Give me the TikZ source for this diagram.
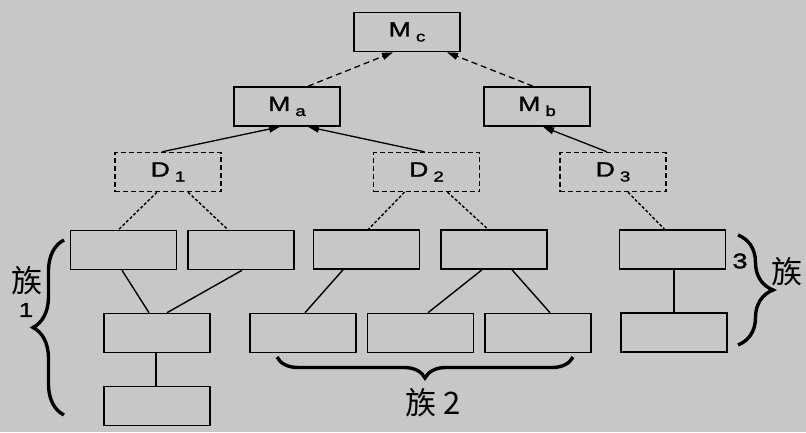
\documentclass[tikz,border=0pt]{standalone}
\usepackage{fontspec}
\setmainfont{Liberation Sans}
\newfontfamily\latinfont[FakeStretch=1.3,FakeBold=1.5]{Liberation Sans}
\newfontfamily\cjk{Noto Sans CJK SC}
\usetikzlibrary{arrows.meta,positioning,decorations.pathreplacing}
\definecolor{bggray}{RGB}{199,199,199}
\newcommand{\sublabel}[2]{{\fontsize{20.5}{21}\latinfont #1}\hspace{5pt}\raisebox{-5pt}{\fontsize{14.5}{15}\latinfont #2}}

\begin{document}
\begin{tikzpicture}[
    x=1pt, y=-1pt,
    box/.style={rectangle, draw=black, line width=1.6pt, minimum width=106pt, minimum height=39pt, inner sep=0pt},
    dbox/.style={box, line width=1.4pt, dash pattern=on 5pt off 3pt},
    arrow/.style={-{Triangle[length=11pt,width=7pt]}, line width=1.3pt},
    darrow/.style={arrow, dash pattern=on 6pt off 4pt},
    link/.style={line width=1.4pt},
    dlink/.style={link, dash pattern=on 3pt off 2pt},
    bracket/.style={decorate, decoration={brace, amplitude=#1}, line width=3.4pt},
    tag/.style={inner sep=0pt, font=\cjk\fontsize{31}{31}\selectfont}
]
\fill[bggray] (0,0) rectangle (806,432);

% models
\node[box] (mc) at (407,32) {\sublabel{M}{c}};
\node[box] (ma) at (287,106.5) {\sublabel{M}{a}};
\node[box] (mb) at (537,106.5) {\sublabel{M}{b}};

% data sets
\node[dbox] (d1) at (168,172) {\sublabel{D}{1}};
\node[dbox] (d2) at (426.5,172) {\sublabel{D}{2}};
\node[dbox] (d3) at (613,172) {\sublabel{D}{3}};

% members
\node[box] (a) at (123.5,250) {};
\node[box] (b) at (241,250) {};
\node[box] (c) at (366.5,249.5) {};
\node[box] (d) at (494,249.5) {};
\node[box] (e) at (672.5,249.5) {};
\node[box] (f) at (157,333) {};
\node[box] (g) at (303,333) {};
\node[box] (h) at (420.5,333) {};
\node[box] (i) at (538,333) {};
\node[box] (j) at (674,332.5) {};
\node[box] (k) at (157,406) {};

\draw[darrow] ([xshift=21pt]ma.north) -- ([xshift=-14pt]mc.south);
\draw[darrow] ([xshift=-4pt]mb.north) -- ([xshift=40pt]mc.south);
\draw[arrow] ([xshift=-6pt]d1.north) -- ([xshift=-7pt]ma.south);
\draw[arrow] ([xshift=-2pt]d2.north) -- ([xshift=21pt]ma.south);
\draw[arrow] ([xshift=-6pt]d3.north) -- ([xshift=6pt]mb.south);

\draw[dlink] ([xshift=-11pt]d1.south) -- ([xshift=-5pt]a.north);
\draw[dlink] ([xshift=20pt]d1.south) -- ([xshift=-13pt]b.north);
\draw[dlink] ([xshift=-22pt]d2.south) -- ([xshift=2pt]c.north);
\draw[dlink] ([xshift=21pt]d2.south) -- ([xshift=-6pt]d.north);
\draw[dlink] ([xshift=15pt]d3.south) -- ([xshift=-8pt]e.north);

\draw[link] ([xshift=-1.5pt]a.south) -- ([xshift=-8pt]f.north);
\draw[link] ([xshift=1pt]b.south) -- ([xshift=10pt]f.north);
\draw[link] ([xshift=-23.5pt]c.south) -- ([xshift=2pt]g.north);
\draw[link] ([xshift=-12pt]d.south) -- ([xshift=7.5pt]h.north);
\draw[link] ([xshift=18pt]d.south) -- ([xshift=12pt]i.north);
\draw[link] ([xshift=1.5pt]e.south) -- ([xshift=0pt]j.north);
\draw[link] ([xshift=-1pt]f.south) -- ([xshift=-1pt]k.north);

% families
\coordinate (l1) at (64,415);
\coordinate (l2) at (64,240);
\coordinate (m1) at (573,357);
\coordinate (m2) at (277,357);
\coordinate (r1) at (738,235);
\coordinate (r2) at (738,345);
\draw[bracket=31pt] (l1) -- (l2);
\draw[bracket=21pt] (m1) -- (m2);
\draw[bracket=35pt] (r1) -- (r2);

\node[tag] (t1) at (27,281) {族};
\node[inner sep=0pt, font=\fontsize{20}{20}\latinfont] (n1) at (26,310) {1};
\node[tag] (t2) at (433,403) {族 2};
\node[inner sep=0pt, font=\fontsize{21}{21}\latinfont] (n3) at (740,261) {3};
\node[tag] (t3) at (787,272) {族};
\end{tikzpicture}
\end{document}
